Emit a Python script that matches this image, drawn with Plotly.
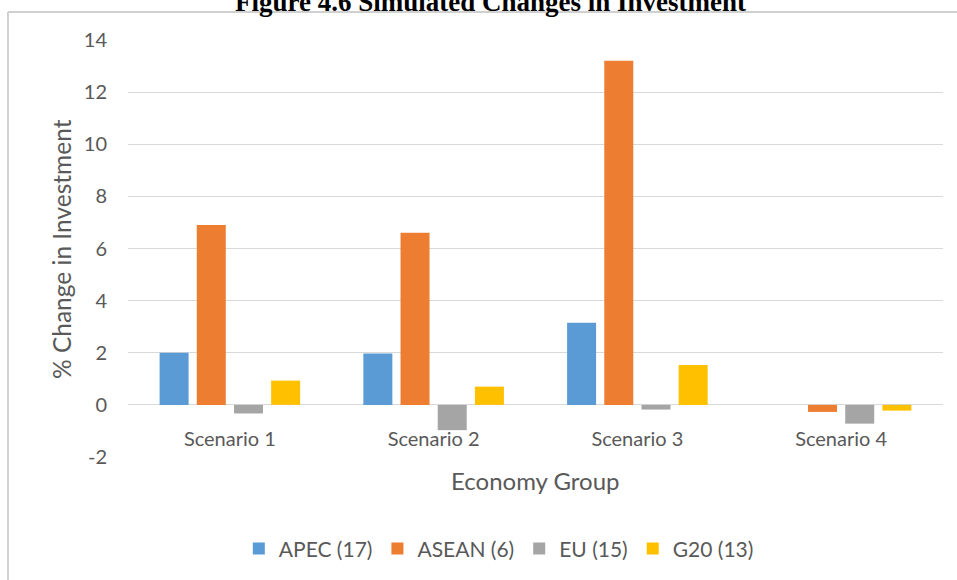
import plotly.graph_objects as go

# Data
scenarios = ['Scenario 1', 'Scenario 2', 'Scenario 3', 'Scenario 4']
apec = [2.0, 1.97, 3.15, 0.0]
asean = [6.9, 6.6, 13.2, -0.27]
eu = [-0.33, -0.97, -0.18, -0.72]
g20 = [0.93, 0.7, 1.53, -0.22]

y_ticks = [-2, 0, 2, 4, 6, 8, 10, 12, 14]
y_tick_text = ['-2', '0', '2', '4', '6', '8', '10', '12', '14']

series = [
    ('APEC (17)', apec, '#5b9bd5'),
    ('ASEAN (6)', asean, '#ed7d31'),
    ('EU (15)', eu, '#a5a5a5'),
    ('G20 (13)', g20, '#ffc000'),
]

font_main = 'Lato, Open Sans, sans-serif'
grey_text = '#595959'
frame_col = '#d0d0d0'

fig = go.Figure()
for name, vals, color in series:
    fig.add_trace(go.Bar(
        x=scenarios, y=vals, name=name,
        marker=dict(color=color, line=dict(width=0)),
    ))

# plot area: x 128..943, y 40..457 in pixels
PW, PH = 815, 417
zero_pos = (457 - 405) / PH

fig.update_layout(
    width=957, height=580,
    margin=dict(l=128, r=14, t=40, b=123, autoexpand=False),
    paper_bgcolor='white', plot_bgcolor='white',
    barmode='group', bargap=0.27, bargroupgap=0.22,
    font=dict(family=font_main, color=grey_text, size=20),
    legend=dict(
        orientation='h', x=0.455, xanchor='center', y=-0.22, yanchor='middle',
        font=dict(size=21, color=grey_text), traceorder='normal',
        itemwidth=30,
    ),
    showlegend=True,
)

# title sits at the very top, partly cut off as in the source image
fig.add_annotation(
    text='<b>Figure 4.6 Simulated Changes in Investment</b>',
    xref='paper', yref='paper', x=(490 - 128) / PW, y=1 + (40 - 19) / PH,
    xanchor='center', yanchor='bottom', showarrow=False,
    font=dict(family='Liberation Serif, Times New Roman, serif', size=27, color='black'),
)

# axis titles placed by hand (Excel-style positions)
fig.add_annotation(
    text='% Change in Investment',
    xref='paper', yref='paper', x=(61 - 128) / PW, y=(457 - 249) / PH,
    xanchor='center', yanchor='middle', textangle=-90, showarrow=False,
    font=dict(size=24.5, color=grey_text),
)
fig.add_annotation(
    text='Economy Group',
    xref='paper', yref='paper', x=(535 - 128) / PW, y=(457 - 480) / PH,
    xanchor='center', yanchor='middle', showarrow=False,
    font=dict(size=24, color=grey_text),
)

fig.update_xaxes(
    anchor='free', position=zero_pos, automargin=False,
    showline=False, showgrid=False,
    ticks='outside', ticklen=16, tickcolor='rgba(0,0,0,0)',
    tickfont=dict(size=20, color=grey_text),
)

fig.update_yaxes(
    range=[-2, 14], tickvals=y_ticks, ticktext=y_tick_text, automargin=False,
    showgrid=True, gridcolor='#d9d9d9', gridwidth=1,
    zeroline=True, zerolinecolor='#d9d9d9', zerolinewidth=1,
    showline=False,
    ticks='outside', ticklen=16, tickcolor='rgba(0,0,0,0)',
    tickfont=dict(size=20, color=grey_text),
)

# light frame around the chart (top and left edges are the visible ones)
frame_top = 1 + (40 - 12) / PH
frame_left = (8 - 128) / PW
frame_right = 1 + 14 / PW
fig.add_shape(type='line', xref='paper', yref='paper',
              x0=frame_left, x1=frame_right, y0=frame_top, y1=frame_top,
              line=dict(color=frame_col, width=2), layer='above')
fig.add_shape(type='line', xref='paper', yref='paper',
              x0=frame_left, x1=frame_left, y0=-123 / PH, y1=frame_top,
              line=dict(color=frame_col, width=2), layer='above')

# remove the default page margin so the figure sits at the window's corner
fig.write_html('out.html', config={'displayModeBar': False},
               post_script="document.body.style.margin='0';")
